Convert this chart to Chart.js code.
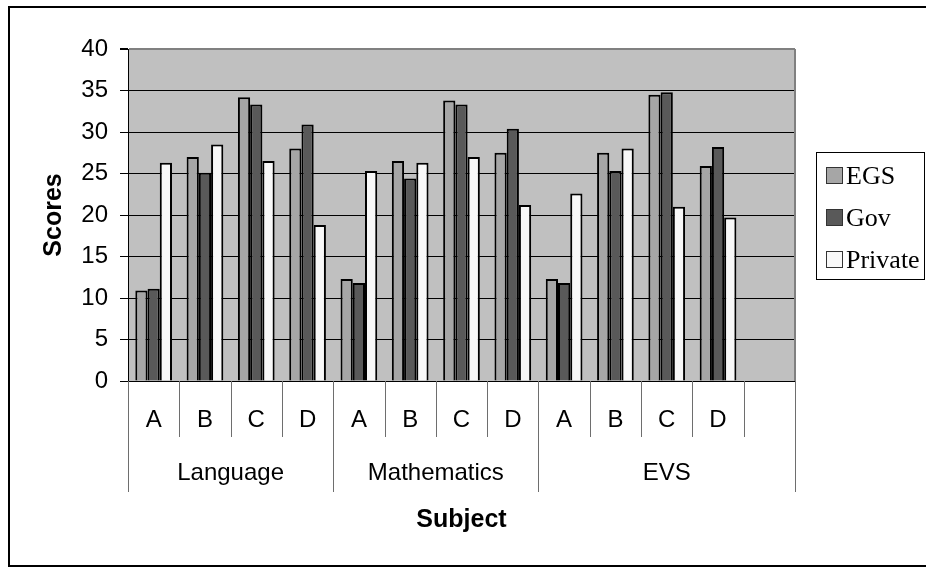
<!DOCTYPE html>
<html>
<head>
<meta charset="utf-8">
<script src="https://cdn.jsdelivr.net/npm/chart.js@4"></script>
<style>
  body { margin: 0; background: #fff; }
</style>
</head>
<body>
<canvas id="myChart" width="926" height="567"></canvas>
<script>
const categories = ['A', 'B', 'C', 'D', 'A', 'B', 'C', 'D', 'A', 'B', 'C', 'D', ''];
const subjects = ['Language', 'Mathematics', 'EVS'];
const subjectSpans = [4, 4, 5];

const egs = [10.9, 27.0, 34.2, 28.0, 12.3, 26.5, 33.8, 27.5, 12.3, 27.5, 34.5, 25.9, null];
const gov = [11.1, 25.1, 33.3, 30.9, 11.8, 24.4, 33.3, 30.4, 11.8, 25.3, 34.8, 28.2, null];
const priv = [26.3, 28.5, 26.5, 18.8, 25.3, 26.3, 27.0, 21.2, 22.6, 28.0, 21.0, 19.7, null];

const SANS = 'Arial, "Liberation Sans", sans-serif';
const SERIF = '"Times New Roman", "Liberation Serif", serif';

// frame, grey plot background, two-row category axis, titles and legend box
const excelLook = {
  id: 'excelLook',
  beforeDraw(chart) {
    const { ctx, chartArea: a } = chart;
    ctx.save();
    ctx.fillStyle = '#fff';
    ctx.fillRect(0, 0, chart.width, chart.height);
    ctx.strokeStyle = '#000';
    ctx.lineWidth = 2;
    ctx.strokeRect(9, 7, 1000, 559);
    ctx.fillStyle = '#c0c0c0';
    ctx.fillRect(a.left, a.top, a.right - a.left, a.bottom - a.top);
    ctx.restore();
  },
  afterDraw(chart) {
    const { ctx, chartArea: a } = chart;
    const x = chart.scales.x;
    const step = x.width / categories.length;
    const edge = i => Math.round(x.left + i * step) + 0.5;

    ctx.save();
    // plot area right border
    ctx.strokeStyle = '#808080';
    ctx.lineWidth = 2;
    ctx.beginPath();
    ctx.moveTo(a.right, a.top);
    ctx.lineTo(a.right, a.bottom);
    ctx.stroke();

    // category separators
    ctx.strokeStyle = '#6e6e6e';
    ctx.lineWidth = 1;
    const groupEdges = [0];
    subjectSpans.forEach((n, i) => groupEdges.push(groupEdges[i] + n));
    ctx.beginPath();
    for (let i = 0; i <= categories.length; i++) {
      const long = groupEdges.includes(i);
      ctx.moveTo(edge(i), a.bottom);
      ctx.lineTo(edge(i), long ? a.bottom + 111 : a.bottom + 56);
    }
    ctx.stroke();

    ctx.fillStyle = '#000';
    ctx.textAlign = 'center';
    ctx.textBaseline = 'alphabetic';
    ctx.font = '24px ' + SANS;
    categories.forEach((c, i) => {
      ctx.fillText(c, x.getPixelForValue(i), a.bottom + 46);
    });
    subjects.forEach((s, i) => {
      const mid = (x.left + (groupEdges[i] + groupEdges[i + 1]) / 2 * step);
      ctx.fillText(s, mid, a.bottom + 99);
    });

    ctx.font = 'bold 25px ' + SANS;
    ctx.fillText('Subject', (a.left + a.right) / 2, a.bottom + 146);
    ctx.save();
    ctx.translate(61, (a.top + a.bottom) / 2);
    ctx.rotate(-Math.PI / 2);
    ctx.fillText('Scores', 0, 0);
    ctx.restore();

    // legend
    ctx.lineWidth = 1;
    ctx.strokeStyle = '#000';
    ctx.strokeRect(816.5, 152.5, 108, 127);
    ctx.textAlign = 'left';
    ctx.font = '26px ' + SERIF;
    chart.data.datasets.forEach((ds, i) => {
      const cy = 175 + i * 42;
      ctx.fillStyle = ds.backgroundColor;
      ctx.fillRect(826.5, cy - 7.5, 16, 16);
      ctx.strokeStyle = '#333';
      ctx.strokeRect(826.5, cy - 7.5, 16, 16);
      ctx.fillStyle = '#000';
      ctx.fillText(ds.label, 846, cy + 9);
    });
    ctx.restore();
  }
};

const ctx = document.getElementById('myChart');

new Chart(ctx, {
  type: 'bar',
  data: {
    labels: categories,
    datasets: [
      { label: 'EGS', data: egs, backgroundColor: '#a6a6a6' },
      { label: 'Gov', data: gov, backgroundColor: '#595959' },
      { label: 'Private', data: priv, backgroundColor: '#f8f8f8' }
    ]
  },
  options: {
    responsive: false,
    animation: false,
    devicePixelRatio: 1,
    layout: { padding: { top: 49, right: 131, left: 0, bottom: 0 } },
    datasets: {
      bar: {
        borderColor: '#000',
        borderWidth: 2,
        categoryPercentage: 0.715,
        barPercentage: 1
      }
    },
    plugins: {
      legend: { display: false },
      tooltip: { enabled: false }
    },
    scales: {
      x: {
        grid: { display: false },
        border: { display: false },
        ticks: { display: false },
        afterFit: s => { s.height = 186; }
      },
      y: {
        min: 0,
        max: 40,
        ticks: {
          stepSize: 5,
          color: '#000',
          padding: 12,
          font: { family: SANS, size: 24 }
        },
        grid: {
          color: c => (c.tick && c.tick.value === 40 ? '#808080' : '#000'),
          lineWidth: c => (c.tick && c.tick.value === 40 ? 2 : 1),
          tickColor: '#000',
          tickLength: 8
        },
        border: { color: '#000', width: 1 },
        afterFit: s => { s.width = 128; }
      }
    }
  },
  plugins: [excelLook]
});
</script>
</body>
</html>
